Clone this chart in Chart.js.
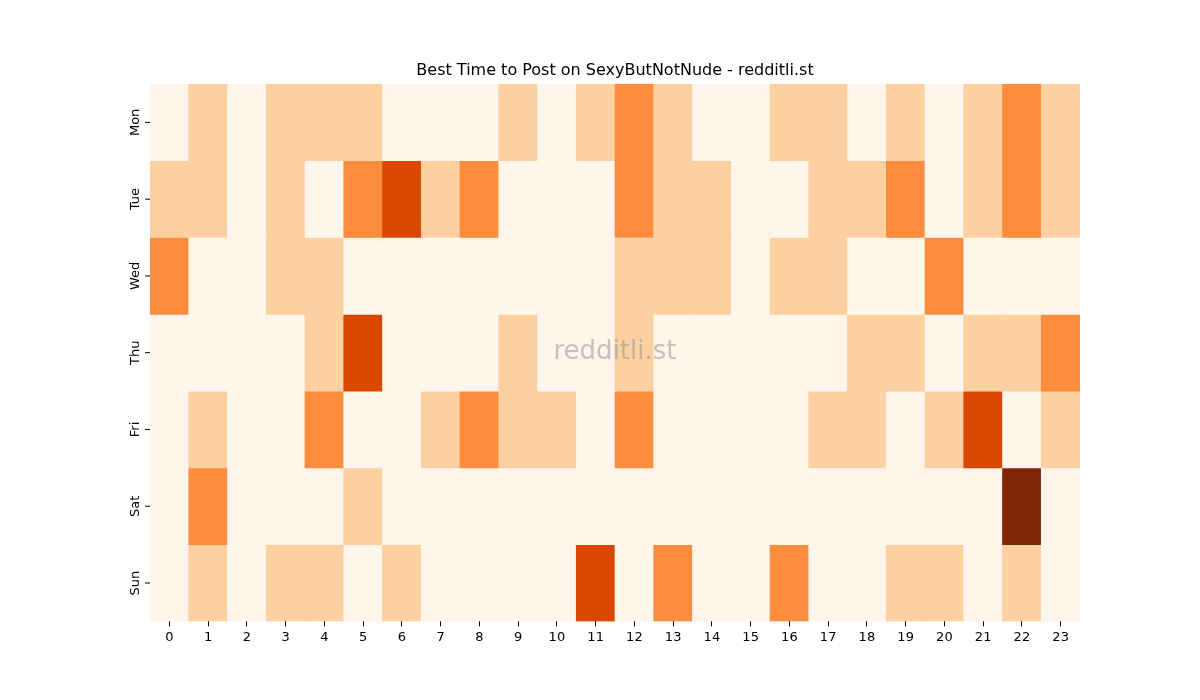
<!DOCTYPE html>
<html><head><script src="https://cdn.jsdelivr.net/npm/chart.js@4"></script>
<style>body{margin:0;background:#fff}#w{width:1200px;height:700px}</style></head>
<body><div id="w"><canvas id="c"></canvas></div>
<script>
const hours = Array.from({length:24},(_,i)=>String(i));
const days = ['Mon','Tue','Wed','Thu','Fri','Sat','Sun'];
const mon = [0,1,0,1,1,1,0,0,0,1,0,1,2,1,0,0,1,1,0,1,0,1,2,1];
const tue = [1,1,0,1,0,2,3,1,2,0,0,0,2,1,1,0,0,1,1,2,0,1,2,1];
const wed = [2,0,0,1,1,0,0,0,0,0,0,0,1,1,1,0,1,1,0,0,2,0,0,0];
const thu = [0,0,0,0,1,3,0,0,0,1,0,0,1,0,0,0,0,0,1,1,0,1,1,2];
const fri = [0,1,0,0,2,0,0,1,2,1,1,0,2,0,0,0,0,1,1,0,1,3,0,1];
const sat = [0,2,0,0,0,1,0,0,0,0,0,0,0,0,0,0,0,0,0,0,0,0,4,0];
const sun = [0,1,0,1,1,0,1,0,0,0,0,3,0,2,0,0,2,0,0,1,1,0,1,0];
const rows = [mon,tue,wed,thu,fri,sat,sun];
const palette = ['#fff5eb','#fdd0a2','#fd8d3c','#d94801','#7f2704'];
const datasets = rows.map((r,i)=>({
  data: r.map(()=>[i-0.5,i+0.5]),
  backgroundColor: r.map(v=>palette[v]),
  borderWidth:0, grouped:false, barPercentage:1, categoryPercentage:1
}));
const deco = {id:'deco', afterDatasetsDraw(ch){
  const c=ch.ctx, a=ch.chartArea, y=ch.scales.y;
  c.save();
  c.fillStyle='rgba(150,150,150,0.55)'; c.font='26px "DejaVu Sans"'; c.textAlign='center'; c.textBaseline='middle';
  c.fillText('redditli.st',(a.left+a.right)/2,(a.top+a.bottom)/2);
  c.fillStyle='#000'; c.font='16px "DejaVu Sans"'; c.textBaseline='bottom';
  c.fillText('Best Time to Post on SexyButNotNude - redditli.st',(a.left+a.right)/2,a.top-5);
  c.font='13px "DejaVu Sans"'; c.strokeStyle='#000'; c.lineWidth=1;
  days.forEach((d,i)=>{const p=y.getPixelForValue(i);
    c.beginPath();c.moveTo(a.left-5,p);c.lineTo(a.left,p);c.stroke();
    c.save();c.translate(a.left-14,p);c.rotate(-Math.PI/2);c.textBaseline='middle';c.fillText(d,0,0);c.restore();});
  c.restore();
}};
new Chart(document.getElementById('c'),{type:'bar',data:{labels:hours,datasets},
options:{responsive:true,maintainAspectRatio:false,animation:false,
layout:{padding:{left:150,right:120,top:84,bottom:52}},
plugins:{legend:{display:false},tooltip:{enabled:false}},
scales:{
 x:{grid:{display:true,drawOnChartArea:false,offset:false,tickLength:5,color:'#000'},border:{display:false},
    ticks:{color:'#000',font:{size:13,family:'DejaVu Sans'},maxRotation:0,autoSkip:false,padding:3}},
 y:{type:'linear',min:-0.5,max:6.5,reverse:true,display:false}
}},plugins:[deco]});
</script></body></html>
